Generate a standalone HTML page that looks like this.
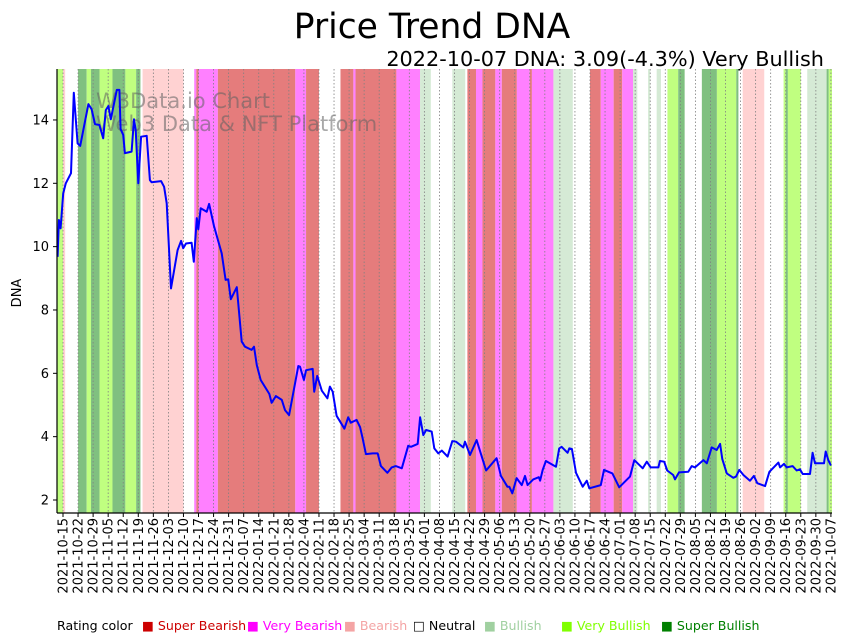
<!DOCTYPE html>
<html><head><meta charset="utf-8"><style>
body{margin:0;background:#fff;}
svg{display:block;font-family:"DejaVu Sans","Liberation Sans",sans-serif;}
</style></head><body>
<svg id="chart" width="848" height="641" viewBox="0 0 848 641" xmlns="http://www.w3.org/2000/svg">
<text x="432" y="38" font-size="34.5" text-anchor="middle">Price Trend DNA</text>
<text x="824" y="66" font-size="20.8" text-anchor="end">2022-10-07 DNA: 3.09(-4.3%) Very Bullish</text>
<g id="bands"></g>
<g id="grid"></g>
<g fill="#606060" fill-opacity="0.55" font-size="21">
<text x="96" y="108">W3Data.io Chart</text>
<text x="96" y="131">Web3 Data &amp; NFT Platform</text>
</g>
<g id="line"></g>
<g id="axes"></g>
<text transform="translate(21,293) rotate(-90)" font-size="13" text-anchor="middle">DNA</text>
<g id="legend" font-size="12.6"></g>
</svg>
<script>
const days=[-2.5,-1.9,-1.1,0.1,1.3,3.7,5.0,6.8,8.0,11.8,13.3,14.9,16.9,18.7,19.9,21.1,22.2,25.0,26.2,26.8,28.0,28.8,31.9,33.0,33.8,35.0,36.3,38.9,40.4,41.2,45.6,47.0,48.2,50.2,53.3,54.9,55.9,57.2,59.8,60.8,62.2,62.9,64.0,66.8,67.9,70.2,73.8,75.6,76.8,78.0,80.8,83.1,84.6,87.7,88.8,90.1,91.9,95.9,97.0,99.0,101.7,103.2,105.1,109.4,110.2,112.0,113.0,116.1,116.8,118.2,120.3,122.9,124.1,125.4,127.2,130.8,132.6,133.8,136.5,138.1,139.3,140.8,144.0,146.3,147.8,150.8,152.8,154.7,157.5,160.5,161.8,164.9,166.0,167.5,168.8,171.4,172.6,174.5,176.1,178.8,181.0,182.7,186.1,186.9,189.2,192.3,196.7,201.6,203.6,206.6,207.5,208.9,210.9,213.3,214.8,216.0,218.6,221.2,221.8,223.0,224.5,229.2,230.7,231.8,234.6,235.4,236.6,238.5,241.6,243.5,244.7,250.0,251.5,255.4,258.6,263.6,265.6,269.5,271.4,273.2,276.8,277.5,279.5,280.9,283.7,284.5,286.4,290.7,292.3,293.8,297.7,299.3,301.6,303.9,305.5,306.5,308.6,311.6,312.9,314.4,316.3,319.4,321.2,322.8,326.4,328.4,332.6,333.4,335.2,336.4,339.2,341.1,342.6,343.9,347.3,348.5,349.6,353.8,354.6,355.8,357.0];
const prices=[9.68,10.84,10.58,11.68,12.0,12.32,14.86,13.26,13.18,14.5,14.34,13.87,13.84,13.42,14.31,14.44,14.02,14.95,14.95,13.71,13.53,12.95,13.0,14.02,13.68,12.0,13.47,13.5,12.1,12.03,12.07,11.89,11.37,8.68,9.89,10.18,9.95,10.1,10.12,9.52,10.9,10.55,11.21,11.1,11.35,10.65,9.79,8.95,8.97,8.34,8.72,7.0,6.84,6.74,6.84,6.26,5.79,5.35,5.07,5.28,5.16,4.84,4.68,6.23,6.21,5.79,6.1,6.14,5.42,5.92,5.45,5.21,5.58,5.42,4.66,4.25,4.61,4.44,4.53,4.3,3.95,3.45,3.47,3.47,3.07,2.86,3.03,3.07,3.0,3.71,3.68,3.77,4.61,4.05,4.21,4.16,3.63,3.47,3.56,3.37,3.86,3.84,3.66,3.84,3.42,3.89,2.93,3.32,2.76,2.42,2.42,2.21,2.69,2.47,2.76,2.47,2.65,2.72,2.61,2.95,3.23,3.05,3.63,3.68,3.49,3.63,3.61,2.86,2.42,2.61,2.37,2.47,2.95,2.84,2.4,2.74,3.26,3.0,3.21,3.03,3.03,3.23,3.21,2.93,2.79,2.65,2.87,2.89,3.07,3.03,3.26,3.16,3.66,3.58,3.77,3.29,2.84,2.7,2.74,2.95,2.79,2.61,2.76,2.53,2.44,2.89,3.18,3.03,3.14,3.03,3.07,2.93,2.97,2.82,2.82,3.49,3.16,3.16,3.53,3.26,3.09];
// rating codes: 0 super bearish,1 very bearish,2 bearish,4 bullish,5 very bullish,6 super bullish
const bandStart=[-3,0,7,11,13,17,23,29,34,37,61,62,63,72,108,113,129,135,136,155,166,181,188,192,195,201,204,211,217,218,228,245,250,256,260,265,272,276,281,286,297,304,313,316,335,336,337,346,355,356];
const bandEnd=[0,1,11,13,17,23,29,34,36,56,62,63,72,108,113,119,135,136,155,166,171,187,192,195,201,204,211,217,218,228,237,250,256,260,265,267,273,278,286,289,304,313,314,326,336,337,343,355,356,358];
const bandRating=[5,2,6,5,6,5,6,5,6,2,1,0,1,0,1,0,0,1,0,1,4,4,0,1,0,1,0,1,0,1,4,0,1,0,1,4,4,4,5,6,6,5,6,2,5,6,5,4,6,5];
const yTicks=[2,4,6,8,10,12,14];
const xLabels=["2021-10-15","2021-10-22","2021-10-29","2021-11-05","2021-11-12","2021-11-19","2021-11-26","2021-12-03","2021-12-10","2021-12-17","2021-12-24","2021-12-31","2022-01-07","2022-01-14","2022-01-21","2022-01-28","2022-02-04","2022-02-11","2022-02-18","2022-02-25","2022-03-04","2022-03-11","2022-03-18","2022-03-25","2022-04-01","2022-04-08","2022-04-15","2022-04-22","2022-04-29","2022-05-06","2022-05-13","2022-05-20","2022-05-27","2022-06-03","2022-06-10","2022-06-17","2022-06-24","2022-07-01","2022-07-08","2022-07-15","2022-07-22","2022-07-29","2022-08-05","2022-08-12","2022-08-19","2022-08-26","2022-09-02","2022-09-09","2022-09-16","2022-09-23","2022-09-30","2022-10-07"];
const legendNames=["Super Bearish","Very Bearish","Bearish","Neutral","Bullish","Very Bullish","Super Bullish"];

const NS="http://www.w3.org/2000/svg";
const L=57,R=832,T=69,B=513;
const xs=d=>63+d*2.151;
const ys=v=>500-(v-2)*31.67;
const bandColors={0:"#e57c7c",1:"#ff80ff",2:"#ffd2d2",4:"#d5ead5",5:"#c0ff80",6:"#80c080"};
function mk(tag,attrs,parent){const e=document.createElementNS(NS,tag);for(const k in attrs)e.setAttribute(k,attrs[k]);parent.appendChild(e);return e;}

const bandsG=document.getElementById('bands');
for(let i=0;i<bandStart.length;i++){
  const x0=Math.max(L,xs(bandStart[i])),x1=Math.min(R,xs(bandEnd[i]));
  const r=mk('rect',{x:x0,y:T,width:Math.max(0,x1-x0),height:B-T,fill:bandColors[bandRating[i]]},bandsG);
  
  
}
const gridG=document.getElementById('grid');
const axesG=document.getElementById('axes');
xLabels.forEach((lab,i)=>{
  const x=xs(i*7);
  const g=mk('line',{x1:x,x2:x,y1:T,y2:B,stroke:"#808080","stroke-width":0.8,"stroke-dasharray":"1.5,2"},gridG);
  
  
  mk('line',{x1:x,x2:x,y1:B,y2:B+4,stroke:"#000","stroke-width":1},axesG);
  const t=mk('text',{transform:`translate(${x+4.5},${B+5}) rotate(-90)`,"font-size":13,"text-anchor":"end"},axesG);
  t.textContent=lab;
  
  
});
yTicks.forEach(v=>{
  const y=ys(v);
  mk('line',{x1:L-4,x2:L,y1:y,y2:y,stroke:"#000","stroke-width":1},axesG);
  const t=mk('text',{x:L-8,y:y+4.5,"font-size":13,"text-anchor":"end"},axesG);
  t.textContent=v;
  
  
});
mk('line',{x1:L,x2:L,y1:T,y2:B,stroke:"#000","stroke-width":1.2},axesG);
mk('line',{x1:L,x2:R,y1:B,y2:B,stroke:"#000","stroke-width":1.2},axesG);

const lineG=document.getElementById('line');
const pts=days.map((d,i)=>xs(d).toFixed(1)+","+ys(prices[i]).toFixed(1)).join(" ");
const pl=mk('polyline',{points:pts,fill:"none",stroke:"#0000ff","stroke-width":2,"stroke-linejoin":"round"},lineG);



const legG=document.getElementById('legend');
const lt=mk('text',{x:57,y:630},legG);lt.textContent="Rating color";
const legColors=["#cc0000","#ff00ff","#f4a4a4","#000000","#a0d0a0","#80ff00","#008000"];
const legX=[142,247,344,413,484,561,661];
legendNames.forEach((n,i)=>{
  const t=mk('text',{x:legX[i],y:630,fill:legColors[i]},legG);
  t.textContent=(i===3?"□ ":"■ ")+n;
  
  
});
</script>
</body></html>
